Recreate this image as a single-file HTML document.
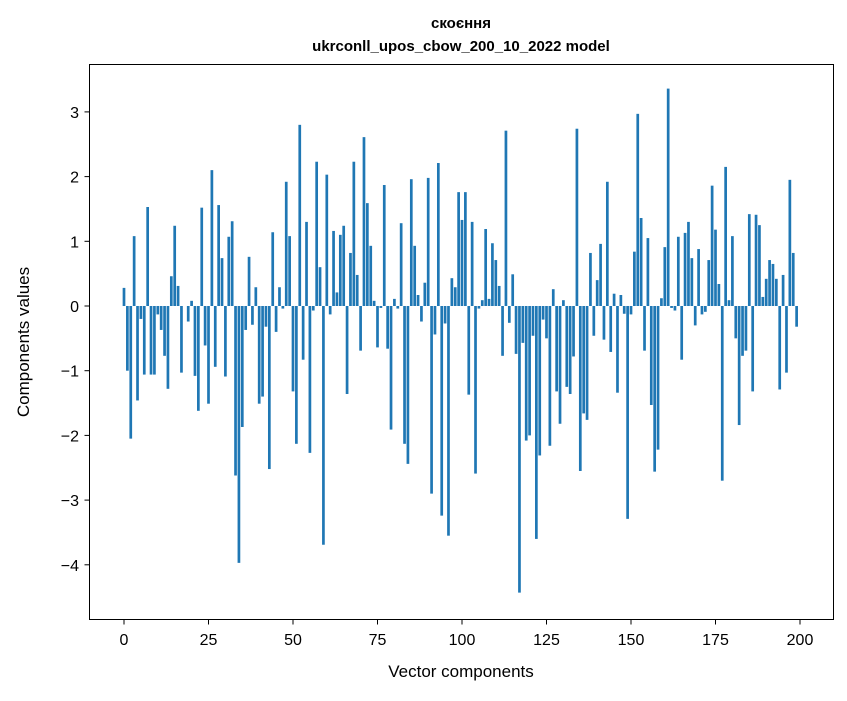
<!DOCTYPE html>
<html><head><meta charset="utf-8"><style>
html,body{margin:0;padding:0;background:#fff;}
svg text{font-family:"Liberation Sans","DejaVu Sans",sans-serif;fill:#000;}
</style></head><body>
<svg id="chart" width="847" height="696" viewBox="0 0 847 696" xmlns="http://www.w3.org/2000/svg">
<rect x="0" y="0" width="847" height="696" fill="#fff"/>
<text x="461" y="28" text-anchor="middle" font-size="15" font-weight="bold">скоєння</text>
<text x="461" y="51" text-anchor="middle" font-size="15" font-weight="bold">ukrconll_upos_cbow_200_10_2022 model</text>
<g id="bars"></g>
<g id="xticks"></g>
<g id="yticks"></g>
<rect x="89.5" y="64.5" width="744" height="555" fill="none" stroke="#000" stroke-width="1"/>
<text x="461" y="677" text-anchor="middle" font-size="17">Vector components</text>
<text x="0" y="0" transform="translate(29,342) rotate(-90)" text-anchor="middle" font-size="17">Components values</text>
</svg>
<script>
const values = [0.28,-1.0,-2.05,1.08,-1.46,-0.2,-1.06,1.53,-1.06,-1.06,-0.13,-0.37,-0.77,-1.28,0.46,1.24,0.31,-1.03,0.0,-0.24,0.08,-1.08,-1.62,1.52,-0.61,-1.51,2.1,-0.94,1.56,0.74,-1.09,1.07,1.31,-2.62,-3.97,-1.87,-0.37,0.76,-0.29,0.29,
-1.51,-1.40,-0.32,-2.52,1.14,-0.40,0.29,-0.04,1.92,1.08,-1.32,-2.13,2.80,-0.83,1.30,-2.27,-0.07,2.23,0.60,-3.69,2.03,-0.13,1.16,0.21,1.10,1.24,-1.36,0.82,2.23,0.48,-0.69,2.61,1.59,0.93,0.08,-0.64,-0.03,1.87,-0.66,-1.91,
0.11,-0.04,1.28,-2.13,-2.44,1.96,0.93,0.17,-0.24,0.36,1.98,-2.90,-0.44,2.21,-3.24,-0.27,-3.55,0.43,0.29,1.76,1.33,1.76,-1.37,1.30,-2.59,-0.04,0.09,1.19,0.11,0.97,0.71,0.31,-0.77,2.71,-0.26,0.49,-0.74,-4.43,-0.57,-2.08,
-2.0,-0.46,-3.60,-2.31,-0.21,-0.50,-2.16,0.26,-1.32,-1.82,0.09,-1.25,-1.36,-0.78,2.74,-2.55,-1.66,-1.76,0.82,-0.46,0.40,0.96,-0.52,1.92,-0.71,0.19,-1.34,0.17,-0.12,-3.29,-0.13,0.84,2.97,1.36,-0.69,1.05,-1.53,-2.56,-2.22,0.12,
0.91,3.36,-0.03,-0.07,1.07,-0.83,1.13,1.30,0.74,-0.30,0.88,-0.13,-0.09,0.71,1.86,1.18,0.34,-2.70,2.15,0.09,1.08,-0.50,-1.84,-0.77,-0.69,1.42,-1.32,1.41,1.25,0.14,0.42,0.71,0.65,0.42,-1.29,0.48,-1.03,1.95,0.82,-0.32];
const xTicks = [0,25,50,75,100,125,150,175,200];
const yTicks = [-4,-3,-2,-1,0,1,2,3];
const NS = "http://www.w3.org/2000/svg";
function xs(i){ return 124 + 3.38*i; }
function ys(v){ return 306 - 64.7*v; }
const bw = 3.38*0.8;
const gb = document.getElementById('bars');
values.forEach(function(v,i){
  const r = document.createElementNS(NS,'rect');
  r.setAttribute('x', xs(i)-bw/2);
  r.setAttribute('y', Math.min(ys(v), ys(0)));
  r.setAttribute('width', bw);
  r.setAttribute('height', Math.abs(ys(v)-ys(0)));
  r.setAttribute('fill', '#1f77b4');
  
  
  gb.appendChild(r);
});
const gx = document.getElementById('xticks');
xTicks.forEach(function(t){
  const l = document.createElementNS(NS,'line');
  l.setAttribute('x1', xs(t)); l.setAttribute('x2', xs(t));
  l.setAttribute('y1', 619.5); l.setAttribute('y2', 624.5);
  l.setAttribute('stroke', '#000');
  
  
  gx.appendChild(l);
  const tx = document.createElementNS(NS,'text');
  tx.setAttribute('x', xs(t)); tx.setAttribute('y', 645);
  tx.setAttribute('text-anchor', 'middle'); tx.setAttribute('font-size', '16');
  tx.textContent = t;
  
  
  gx.appendChild(tx);
});
const gy = document.getElementById('yticks');
yTicks.forEach(function(t){
  const l = document.createElementNS(NS,'line');
  l.setAttribute('x1', 84.5); l.setAttribute('x2', 89.5);
  l.setAttribute('y1', ys(t)); l.setAttribute('y2', ys(t));
  l.setAttribute('stroke', '#000');
  
  
  gy.appendChild(l);
  const tx = document.createElementNS(NS,'text');
  tx.setAttribute('x', 79); tx.setAttribute('y', ys(t)+6);
  tx.setAttribute('text-anchor', 'end'); tx.setAttribute('font-size', '16');
  tx.textContent = t < 0 ? '\u2212' + Math.abs(t) : String(t);
  
  
  gy.appendChild(tx);
});
</script>
</body></html>
